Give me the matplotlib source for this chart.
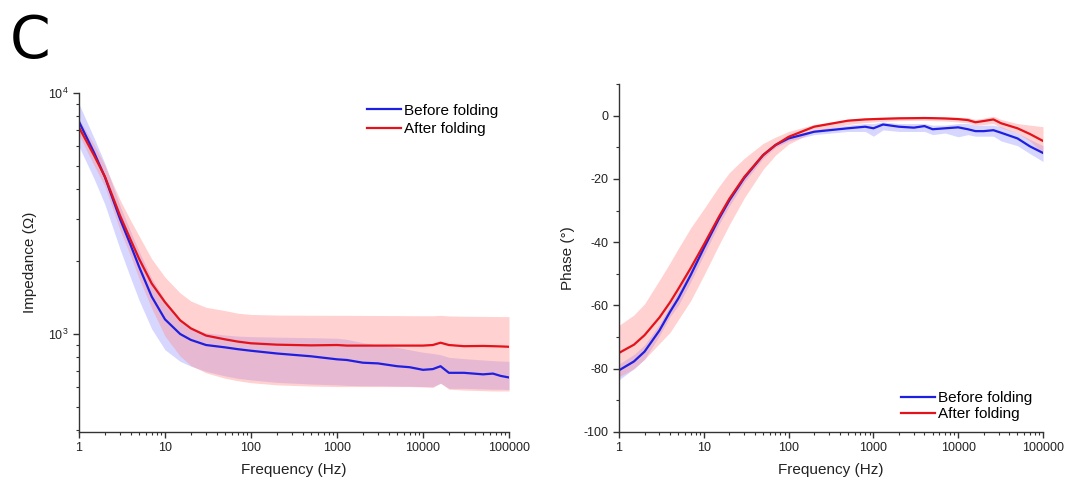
import math
import matplotlib
matplotlib.use("Agg")
import matplotlib.pyplot as plt
from matplotlib.ticker import FixedLocator, FuncFormatter, NullFormatter, LogLocator, MultipleLocator

plt.rcParams['font.family'] = ['Liberation Sans', 'DejaVu Sans']
plt.rcParams['mathtext.fontset'] = 'custom'
plt.rcParams['mathtext.rm'] = 'Liberation Sans'
plt.rcParams['mathtext.it'] = 'Liberation Sans:italic'
plt.rcParams['axes.unicode_minus'] = False

# ---------------- data: impedance ----------------
freq_z = [1, 1.5, 2, 3, 4, 5, 7, 10, 15, 20, 30, 50, 70, 100, 200, 500, 1000, 1300, 2000,
          3000, 5000, 7000, 10000, 13000, 16000, 20000, 30000, 50000, 65000, 80000, 100000]
z_after = [7200, 5500, 4500, 3100, 2450, 2050, 1620, 1355, 1140, 1055, 985, 950, 930, 915, 903,
           897, 900, 895, 895, 895, 895, 895, 895, 900, 920, 900, 890, 892, 890, 888, 885]
z_before = [7600, 5650, 4480, 3000, 2330, 1900, 1430, 1150, 1000, 945, 900, 880, 865, 852, 830,
            808, 785, 780, 760, 755, 735, 728, 710, 715, 735, 690, 690, 680, 685, 670, 660]
z_before_hi = [9000, 6500, 5100, 3400, 2650, 2200, 1700, 1380, 1150, 1060, 1010, 990, 980, 975, 970,
               965, 960, 950, 920, 900, 880, 860, 840, 830, 820, 800, 790, 780, 775, 772, 770]
z_before_lo = [6000, 4400, 3450, 2250, 1700, 1380, 1050, 860, 770, 735, 700, 670, 655, 645, 630,
               620, 615, 612, 610, 610, 608, 607, 605, 605, 625, 595, 595, 592, 590, 590, 588]
z_after_hi = [7800, 6100, 5000, 3600, 2950, 2550, 2050, 1720, 1480, 1370, 1290, 1250, 1220, 1205, 1198,
              1196, 1195, 1195, 1194, 1193, 1192, 1191, 1190, 1190, 1195, 1188, 1185, 1183, 1182, 1181, 1180]
z_after_lo = [6700, 5000, 4100, 2700, 2100, 1700, 1280, 980, 810, 740, 690, 655, 640, 628, 615,
              608, 605, 605, 605, 605, 605, 605, 603, 600, 625, 590, 585, 582, 580, 580, 580]

# ---------------- data: phase ----------------
freq_p = [1, 1.5, 2, 3, 4, 5, 7, 10, 15, 20, 30, 50, 70, 100, 200, 500, 800, 1000, 1300, 2000,
          3000, 4000, 5000, 7000, 10000, 13000, 16000, 20000, 26000, 32000, 50000, 70000, 100000]
p_after = [-75.0, -72.4, -69.4, -63.8, -59.0, -54.8, -48.2, -40.8, -32.1, -26.3, -19.4, -12.5, -9.3,
           -6.7, -3.5, -1.6, -1.2, -1.1, -1.0, -0.85, -0.8, -0.75, -0.8, -0.9, -1.1, -1.4, -2.1,
           -1.7, -1.2, -2.4, -4.0, -5.8, -8.0]
p_before = [-80.5, -77.7, -74.6, -67.9, -62.0, -57.8, -50.4, -41.9, -32.7, -26.8, -19.7, -12.5, -9.3,
            -7.2, -5.1, -4.0, -3.5, -4.0, -2.8, -3.5, -3.8, -3.3, -4.3, -4.0, -3.7, -4.3, -4.9,
            -4.9, -4.6, -5.4, -7.2, -9.7, -11.8]
p_after_hi = [-66.3, -63.0, -59.5, -52.0, -46.5, -42.0, -35.5, -29.5, -22.5, -18.0, -13.5, -8.8, -6.8,
              -5.0, -2.8, -1.2, -0.7, -0.6, -0.5, -0.4, -0.3, -0.3, -0.3, -0.4, -0.5, -0.6, -1.2,
              -0.8, -0.2, -1.2, -2.5, -3.0, -3.5]
p_after_lo = [-82.5, -80.0, -77.0, -72.0, -68.5, -64.5, -58.5, -50.5, -41.0, -34.5, -26.0, -17.0,
              -12.5, -9.0, -5.0, -2.8, -2.2, -2.0, -1.8, -1.6, -1.5, -1.5, -1.6, -1.7, -2.0, -2.3,
              -3.0, -2.8, -2.5, -3.8, -5.5, -8.0, -12.0]
p_before_hi = [-78.5, -75.5, -72.5, -66, -60, -55.5, -48, -40, -31, -25.5, -18.5, -11.5, -8.5, -6.5,
               -4.5, -3, -2.5, -2.5, -2, -2.5, -2.5, -2.5, -3, -3, -2.5, -2.5, -3, -3, -3, -3.5,
               -5.5, -7.5, -9.5]
p_before_lo = [-83.5, -80, -77, -69.5, -63.5, -60, -52.5, -44, -34.5, -28.5, -21, -13.5, -10, -8,
               -6, -5, -5, -6.5, -4.5, -5, -5, -5, -6, -5.5, -6.7, -6, -6.5, -6.5, -6.5, -8, -9.5,
               -12, -14.5]

x_ticks = [1, 10, 100, 1000, 10000, 100000]
labels = ["Before folding", "After folding"]

BLUE = '#1f1fe0'
RED = '#e3121b'
BLUE_FILL = (0.55, 0.55, 1.0)
RED_FILL = (1.0, 0.55, 0.55)

fig = plt.figure(figsize=(10.68, 4.8), dpi=100)
ax1 = fig.add_axes([79/1068, 1-432/480, 430/1068, (432-93)/480])
ax2 = fig.add_axes([619/1068, 1-432/480, 424/1068, (432-84)/480])

fig.text(10/1068, 1-58/480, "C", fontsize=42, family='DejaVu Sans', ha='left', va='baseline')


def style_x(ax):
    ax.set_xscale('log')
    ax.set_xlim(1, 100000)
    ax.xaxis.set_major_locator(FixedLocator(x_ticks))
    ax.xaxis.set_major_formatter(FuncFormatter(lambda v, p: f"{int(round(v))}"))
    ax.xaxis.set_minor_locator(LogLocator(base=10, subs=range(2, 10), numticks=20))
    ax.xaxis.set_minor_formatter(NullFormatter())
    ax.set_xlabel("Frequency (Hz)", fontsize=11, color='#222222', labelpad=6)
    for s in ['top', 'right']:
        ax.spines[s].set_visible(False)
    for s in ['left', 'bottom']:
        ax.spines[s].set_color('#333333')
        ax.spines[s].set_linewidth(1.0)
    ax.tick_params(which='major', direction='out', length=4, width=1, colors='#333333',
                   labelsize=9, labelcolor='#222222')
    ax.tick_params(which='minor', direction='out', length=2.5, width=0.8, colors='#333333')


# ---------- left panel ----------
ax1.fill_between(freq_z, z_before_lo, z_before_hi, color=BLUE_FILL, alpha=0.35, lw=0)
ax1.plot(freq_z, z_before, color=BLUE, lw=1.6, label=labels[0])
ax1.fill_between(freq_z, z_after_lo, z_after_hi, color=RED_FILL, alpha=0.4, lw=0)
ax1.plot(freq_z, z_after, color=RED, lw=1.6, label=labels[1])
style_x(ax1)
ax1.set_yscale('log')
ax1.set_ylim(392, 10000)
ax1.yaxis.set_major_locator(FixedLocator([1000, 10000]))
ax1.yaxis.set_major_formatter(FuncFormatter(lambda v, p: r"$10^{%d}$" % round(math.log10(v))))
ax1.yaxis.set_minor_locator(LogLocator(base=10, subs=range(2, 10), numticks=20))
ax1.yaxis.set_minor_formatter(NullFormatter())
ax1.set_ylabel("Impedance (Ω)", fontsize=11, color='#222222', labelpad=8)
ax1.legend(loc='upper right', bbox_to_anchor=(1.0, 1.0), frameon=False, fontsize=11,
           handlelength=2.2, handletextpad=0.2, labelspacing=0.3, borderaxespad=0.3)

# ---------- right panel ----------
ax2.fill_between(freq_p, p_before_lo, p_before_hi, color=BLUE_FILL, alpha=0.35, lw=0)
ax2.plot(freq_p, p_before, color=BLUE, lw=1.6, label=labels[0])
ax2.fill_between(freq_p, p_after_lo, p_after_hi, color=RED_FILL, alpha=0.4, lw=0)
ax2.plot(freq_p, p_after, color=RED, lw=1.6, label=labels[1])
style_x(ax2)
ax2.set_ylim(-100, 10)
ax2.yaxis.set_major_locator(FixedLocator([-100, -80, -60, -40, -20, 0]))
ax2.yaxis.set_minor_locator(MultipleLocator(10))
ax2.set_ylabel("Phase (°)", fontsize=11, color='#222222', labelpad=6)
ax2.legend(loc='lower right', bbox_to_anchor=(1.0, 0.0), frameon=False, fontsize=11,
           handlelength=2.2, handletextpad=0.2, labelspacing=0.15, borderaxespad=0.3)

fig.savefig("out.png", dpi=100)
